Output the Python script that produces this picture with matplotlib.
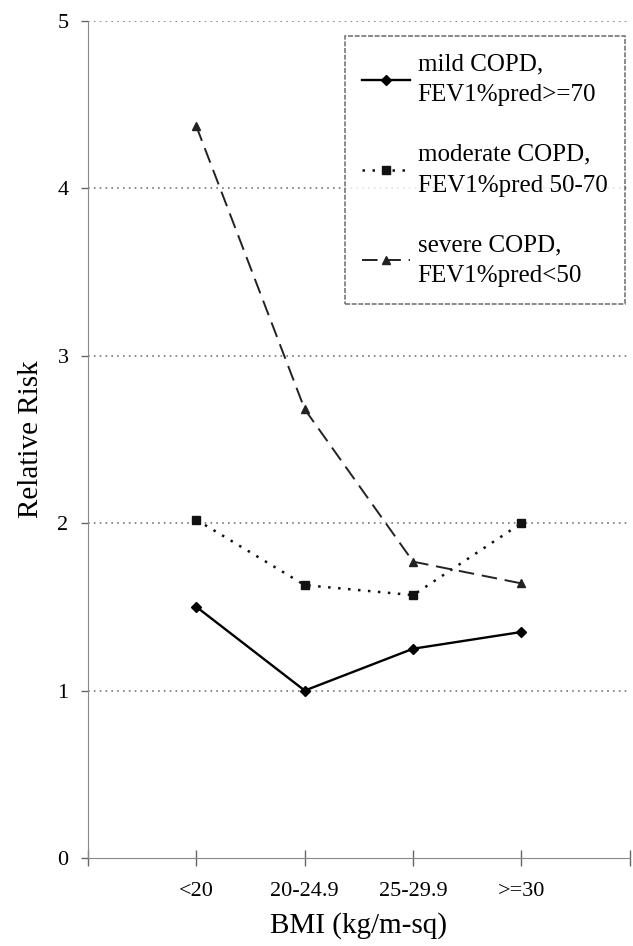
import matplotlib
matplotlib.use("Agg")
from matplotlib import pyplot as plt
import numpy as np

plt.rcParams['font.family'] = ['Liberation Serif', 'DejaVu Serif']

# data
bmi_groups = ['<20', '20-24.9', '25-29.9', '>=30']
mild = [1.50, 1.00, 1.25, 1.35]
moderate = [2.02, 1.63, 1.57, 2.00]
severe = [4.37, 2.68, 1.77, 1.64]
y_ticks = [0, 1, 2, 3, 4, 5]

fig = plt.figure(figsize=(6.33, 9.46), dpi=100)
ax = fig.add_axes([0.139, 0.093, 0.856, 0.885])

x = np.arange(1, len(bmi_groups) + 1)

ax.plot(x, mild, color='black', lw=1.7, marker='D', ms=5,
        label='mild COPD,\nFEV1%pred>=70')
ax.plot(x, moderate, color='#111111', lw=1.8, ls=(0, (1, 3.0)), marker='s', ms=6,
        label='moderate COPD,\nFEV1%pred 50-70')
ax.plot(x, severe, color='#222222', lw=1.4, ls=(0, (8, 4)), marker='^', ms=6,
        label='severe COPD,\nFEV1%pred<50')

ax.set_xlim(0, 5)
ax.set_ylim(0, 5)

# dotted grid at every integer
for yv in y_ticks[1:]:
    ax.axhline(yv, color='#777777', lw=1.2, ls=(0, (1, 2.5)), zorder=0)

ax.set_xticks(range(0, 6))
ax.set_xticklabels([''] + bmi_groups + [''])
ax.set_yticks(y_ticks)
ax.tick_params(axis='x', direction='inout', length=12, width=1, color='#666666',
               labelsize=16, pad=11)
ax.tick_params(axis='y', direction='out', length=5, width=1, color='#666666',
               labelsize=16, pad=9)

for s in ['top', 'right']:
    ax.spines[s].set_visible(False)
ax.spines['left'].set_color('#888888')
ax.spines['left'].set_linestyle((0, (2, 1)))
ax.spines['bottom'].set_color('#888888')

ax.set_xlabel('BMI (kg/m-sq)', fontsize=21, labelpad=8)
ax.set_ylabel('Relative Risk', fontsize=21)
ax.yaxis.set_label_coords(-0.081, 0.5)

leg = ax.legend(loc='upper right', bbox_to_anchor=(0.991, 0.982), fontsize=18,
                frameon=True, fancybox=False, handlelength=1.9, handletextpad=0.32,
                labelspacing=1.5, borderpad=0.7, borderaxespad=0)
for t in leg.get_texts():
    t.set_linespacing(1.52)
leg.get_frame().set_edgecolor('#555555')
leg.get_frame().set_linewidth(1.2)
leg.get_frame().set_linestyle((0, (3, 1)))

fig.savefig('out.png', dpi=100)
